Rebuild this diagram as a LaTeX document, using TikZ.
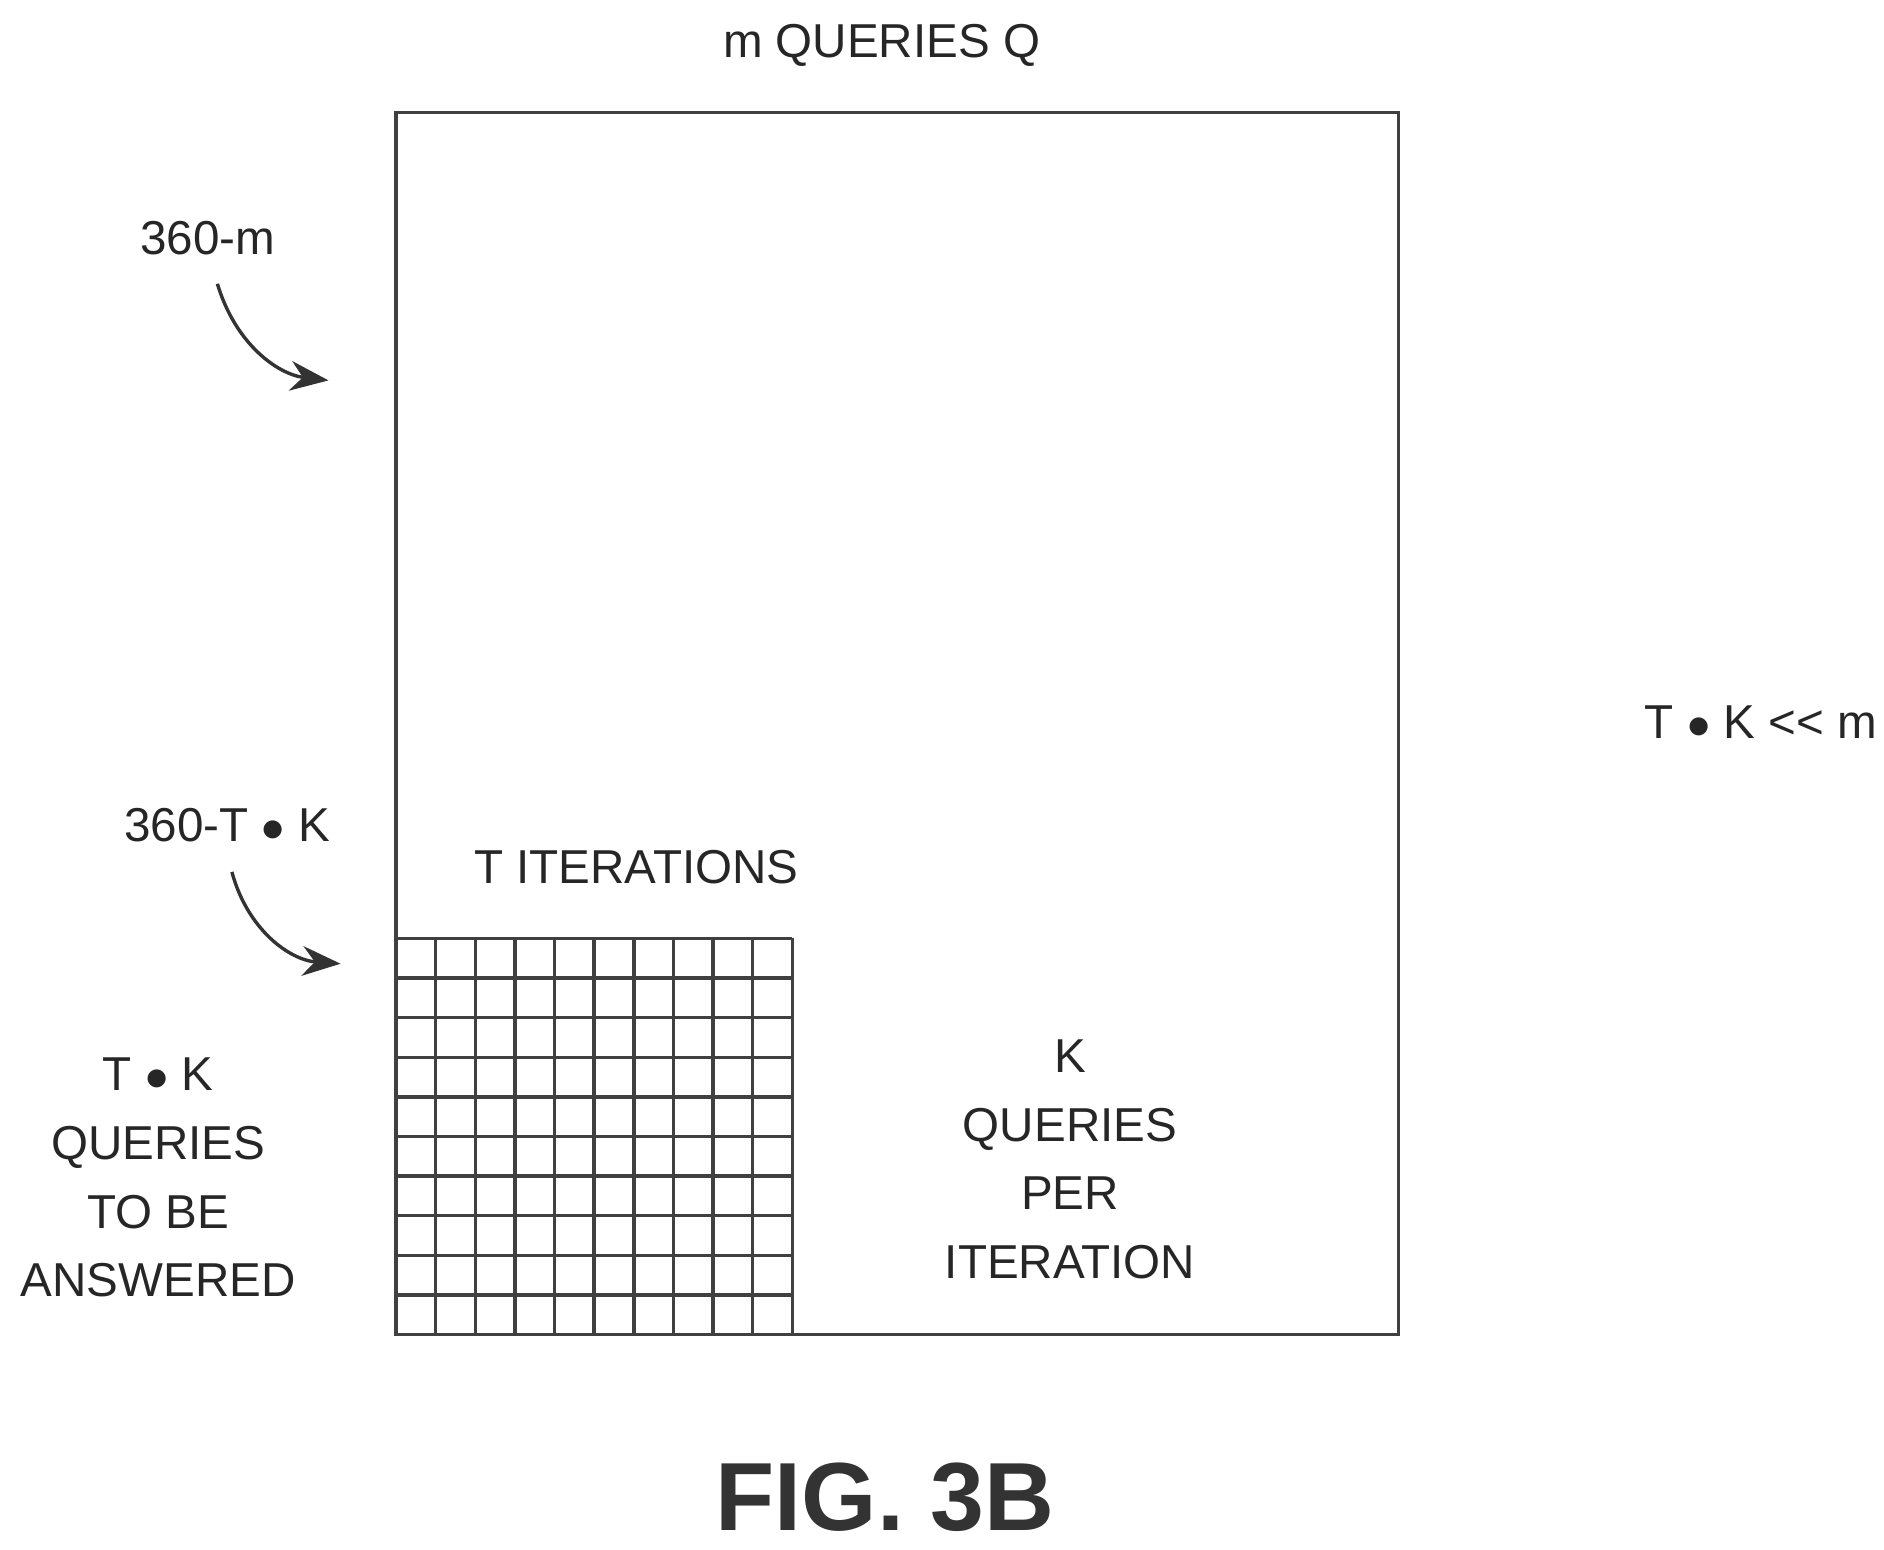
\documentclass[tikz,border=0pt]{standalone}
\usepackage{fontspec}
\setmainfont{Liberation Sans}
\usetikzlibrary{arrows.meta}

\begin{document}
\begin{tikzpicture}[x=0.01cm,y=-0.01cm,
  label text/.style={font=\fontsize{11.2}{16.2}\selectfont,align=center,text=black!85},
  curve arrow/.style={-{Stealth[length=9pt,width=7pt]},thick,black!80}]

  \useasboundingbox (0,0) rectangle (1560,1283);

  % outer block of m queries
  \draw[thick,black!75] (328,93) rectangle (1158,1105);
  \node[label text] (title) at (730,38) {m QUERIES Q};

  % grid of answered queries
  \foreach \i in {0,...,10} {
    \draw[thick,black!75] (328+32.8*\i,777) -- (328+32.8*\i,1105);
    \draw[thick,black!75] (328,777+32.8*\i) -- (656,777+32.8*\i);
  }
  \node[label text] (iter) at (527,718) {T ITERATIONS};

  % reference numerals
  \node[label text] (ref1) at (172,197) {360-m};
  \coordinate (end1) at (272,315);
  \draw[curve arrow] (180,235) .. controls (195,285) and (230,310) .. (end1);
  \node[label text] (ref2) at (188,683) {360-T $\bullet$ K};
  \coordinate (end2) at (282,798);
  \draw[curve arrow] (192,722) .. controls (205,770) and (240,795) .. (end2);

  % annotations
  \node[label text] (ratio) at (1458,598) {T $\bullet$ K {<}{<} m};
  \node[label text] (answered) at (131,975)
    {T $\bullet$ K\\QUERIES\\TO BE\\ANSWERED};
  \node[label text] (per) at (886,960)
    {K\\QUERIES\\PER\\ITERATION};

  \node[font=\bfseries\fontsize{22.8}{28}\selectfont,text=black!80] (fig) at (733,1240) {FIG. 3B};
\end{tikzpicture}
\end{document}
